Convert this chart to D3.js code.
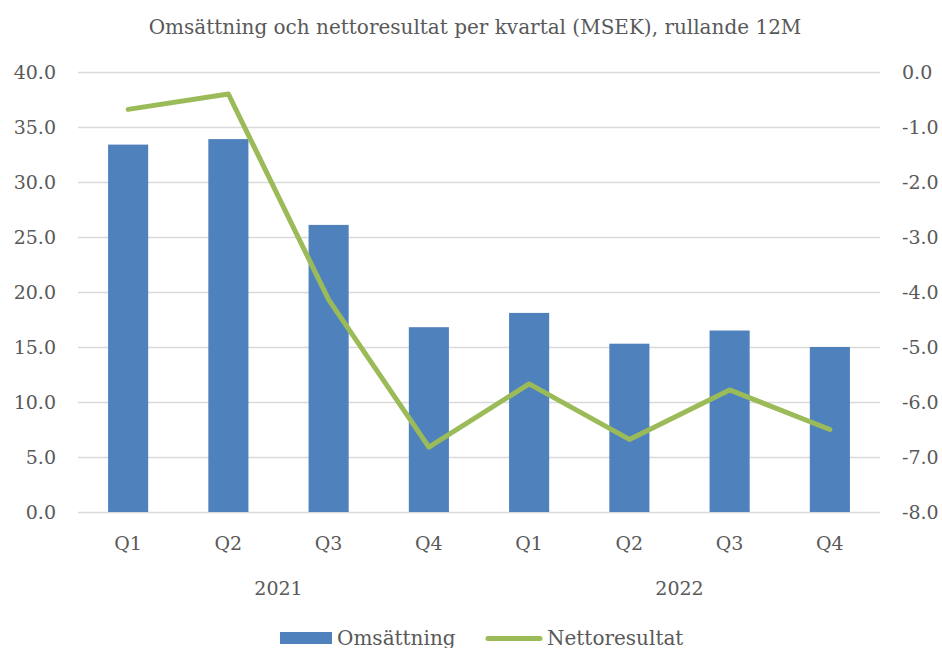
<!DOCTYPE html>
<html>
<head>
<meta charset="utf-8">
<script src="https://cdn.jsdelivr.net/npm/d3@7"></script>
<style>
  body { margin: 0; background: #fff; }
  text { font-family: "DejaVu Serif", "Liberation Serif", serif; fill: #595959; }
</style>
</head>
<body>
<svg id="chart" width="942" height="648"></svg>
<script>
// data
var quarters = ["Q1", "Q2", "Q3", "Q4", "Q1", "Q2", "Q3", "Q4"];
var years = ["2021", "2022"];
var omsattning = [33.4, 33.9, 26.1, 16.8, 18.1, 15.3, 16.5, 15.0];
var nettoresultat = [-0.68, -0.40, -4.14, -6.82, -5.67, -6.68, -5.78, -6.50];
var leftTicks = [0, 5, 10, 15, 20, 25, 30, 35, 40];
var rightTicks = [0, -1, -2, -3, -4, -5, -6, -7, -8];

var svg = d3.select("#chart");
var plotLeft = 78, plotRight = 880, plotTop = 72, plotBottom = 512;

var x = d3.scaleBand()
	.domain(d3.range(quarters.length))
	.range([plotLeft, plotRight])
	.paddingInner(0.6)
	.paddingOuter(0.3);

var y = d3.scaleLinear().domain([0, 40]).range([plotBottom, plotTop]);
var y2 = d3.scaleLinear().domain([-8, 0]).range([plotBottom, plotTop]);

// plain hyphen instead of d3's unicode minus, like Excel
function fmt(d) { return d3.format(".1f")(d).replace("\u2212", "-"); }

// title
svg.append("text")
	.attr("x", 475).attr("y", 34)
	.attr("text-anchor", "middle")
	.style("font-size", "20px")
	.text("Omsättning och nettoresultat per kvartal (MSEK), rullande 12M");

// gridlines
svg.append("g").selectAll("line")
	.data(leftTicks)
	.enter().append("line")
	.attr("x1", plotLeft).attr("x2", plotRight)
	.attr("y1", function(d) { return Math.round(y(d)) + 0.5; })
	.attr("y2", function(d) { return Math.round(y(d)) + 0.5; })
	.style("stroke", "#d9d9d9")
	.style("stroke-width", 1.5);

// left axis
var leftAxis = svg.append("g")
	.attr("transform", "translate(56,0)")
	.call(d3.axisLeft(y).tickValues(leftTicks).tickFormat(fmt).tickSize(0).tickPadding(0));
leftAxis.select(".domain").remove();

// right axis
var rightAxis = svg.append("g")
	.attr("transform", "translate(902,0)")
	.call(d3.axisRight(y2).tickValues(rightTicks).tickFormat(fmt).tickSize(0).tickPadding(0));
rightAxis.select(".domain").remove();

[leftAxis, rightAxis].forEach(function(ax) {
	ax.attr("font-family", null).attr("font-size", null);
	ax.selectAll("text").style("font-size", "19px").attr("fill", null);
});

// bars
svg.append("g").selectAll("rect")
	.data(omsattning)
	.enter().append("rect")
	.attr("x", function(d, i) { return x(i); })
	.attr("width", x.bandwidth())
	.attr("y", function(d) { return y(d); })
	.attr("height", function(d) { return plotBottom - y(d); })
	.style("fill", "#4f81bd");

// line
var line = d3.line()
	.x(function(d, i) { return x(i) + x.bandwidth() / 2; })
	.y(function(d) { return y2(d); });

svg.append("path")
	.datum(nettoresultat)
	.attr("d", line)
	.style("fill", "none")
	.style("stroke", "#9bbb59")
	.style("stroke-width", 5)
	.style("stroke-linejoin", "round")
	.style("stroke-linecap", "round");

// category labels
svg.append("g").selectAll("text")
	.data(quarters)
	.enter().append("text")
	.attr("x", function(d, i) { return x(i) + x.bandwidth() / 2; })
	.attr("y", 550)
	.attr("text-anchor", "middle")
	.style("font-size", "19px")
	.text(function(d) { return d; });

svg.append("g").selectAll("text")
	.data(years)
	.enter().append("text")
	.attr("x", function(d, i) {
		return (x(i * 4) + x(i * 4 + 3) + x.bandwidth()) / 2;
	})
	.attr("y", 595)
	.attr("text-anchor", "middle")
	.style("font-size", "19px")
	.text(function(d) { return d; });

// legend
var legend = svg.append("g");
legend.append("rect")
	.attr("x", 280).attr("y", 632)
	.attr("width", 52).attr("height", 12)
	.style("fill", "#4f81bd");
legend.append("text")
	.attr("x", 337).attr("y", 645)
	.style("font-size", "20px")
	.text("Omsättning");
legend.append("line")
	.attr("x1", 488).attr("x2", 540)
	.attr("y1", 638.5).attr("y2", 638.5)
	.style("stroke", "#9bbb59")
	.style("stroke-width", 5)
	.style("stroke-linecap", "round");
legend.append("text")
	.attr("x", 547).attr("y", 645)
	.style("font-size", "20px")
	.text("Nettoresultat");
</script>
</body>
</html>
